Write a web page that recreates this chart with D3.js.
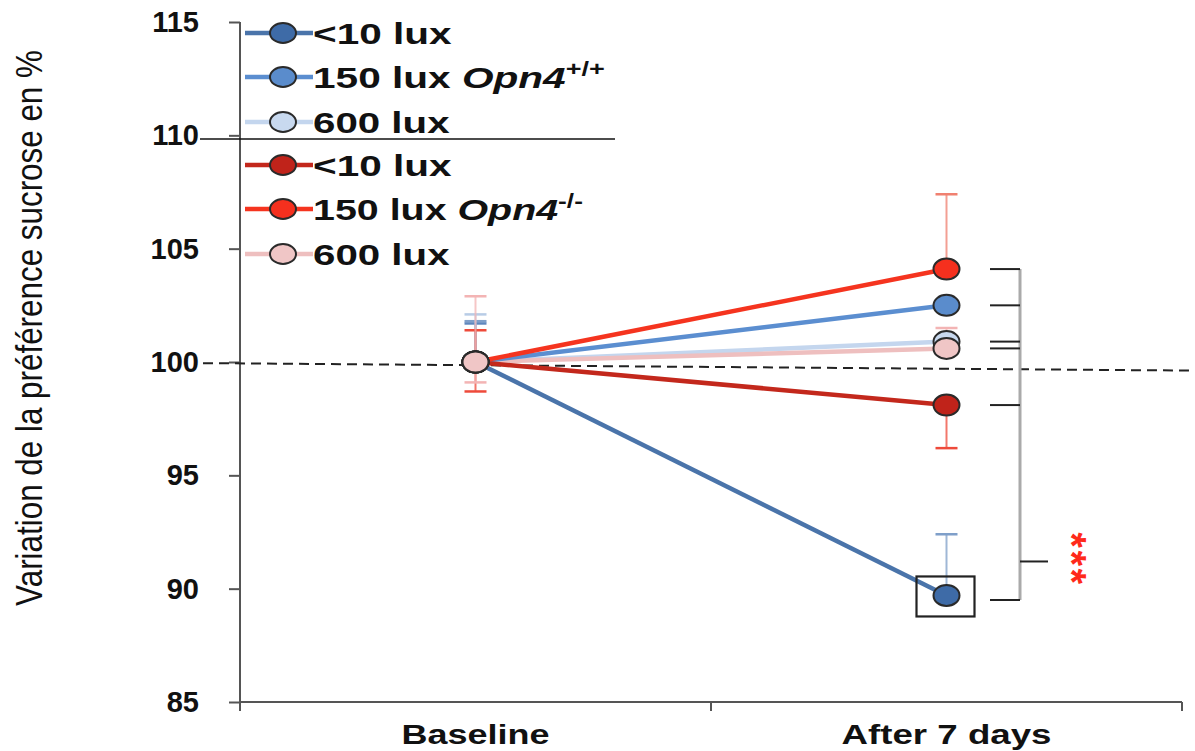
<!DOCTYPE html>
<html><head><meta charset="utf-8">
<script src="https://cdn.jsdelivr.net/npm/d3@7"></script>
<style>
html,body{margin:0;padding:0;background:#fff;}
svg{display:block;}
text{font-family:"Liberation Sans",Arial,sans-serif;}
</style></head>
<body>
<svg id="chart" width="1195" height="751"></svg>
<script>
// ---------- DATA ----------
const categories = ["Baseline", "After 7 days"];
const yTicks = [85, 90, 95, 100, 105, 110, 115];
const seriesKeys = ["wt_lt10", "wt_150", "wt_600", "ko_lt10", "ko_150", "ko_600"];
const legendLabels = ["<10 lux", "150 lux ", "600 lux", "<10 lux", "150 lux ", "600 lux"];
const legendGenotype = ["", "Opn4", "", "", "Opn4", ""];
const legendSup = ["", "+/+", "", "", "-/-", ""];
// mean values (Baseline, After 7 days)
const wt_lt10 = [100, 89.7];
const wt_150 = [100, 102.5];
const wt_600 = [100, 100.9];
const ko_lt10 = [100, 98.1];
const ko_150 = [100, 104.1];
const ko_600 = [100, 100.6];
// error bar ends (null = not shown)
const wt_lt10_hi = [101.8, 92.4], wt_lt10_lo = [null, null];
const wt_150_hi = [101.7, null], wt_150_lo = [null, null];
const wt_600_hi = [102.1, null], wt_600_lo = [null, null];
const ko_lt10_hi = [101.4, null], ko_lt10_lo = [98.7, 96.2];
const ko_150_hi = [null, 107.4], ko_150_lo = [null, null];
const ko_600_hi = [102.9, 101.5], ko_600_lo = [99.1, null];
// reference line (slightly tilted in the original), significance bracket
const refLine = [99.95, 99.62];
const bracketJoin = 91.2;
const sigLabel = "***";
const yTitle = "Variation de la préférence sucrose en %";

// ---------- STYLES ----------
const lineColors = ["#4a74aa", "#5b8ed0", "#c4d6ee", "#c3281c", "#f5341f", "#eebfbf"];
const fillColors = ["#3e6ba7", "#5a8ccc", "#c8d9ef", "#c0231a", "#f5301e", "#f0c6c6"];
const errColors  = ["#7f9fc9", "#5f87bd", "#b8cce6", "#ee4a3a", "#f08070", "#f3b4b4"];

const values = {wt_lt10, wt_150, wt_600, ko_lt10, ko_150, ko_600};
const highs = {wt_lt10: wt_lt10_hi, wt_150: wt_150_hi, wt_600: wt_600_hi, ko_lt10: ko_lt10_hi, ko_150: ko_150_hi, ko_600: ko_600_hi};
const lows = {wt_lt10: wt_lt10_lo, wt_150: wt_150_lo, wt_600: wt_600_lo, ko_lt10: ko_lt10_lo, ko_150: ko_150_lo, ko_600: ko_600_lo};

const svg = d3.select("#chart");
const x = d3.scaleBand().domain(categories).range([240, 1182]).padding(0);
const cx = c => x(c) + x.bandwidth() / 2;
const y = d3.scaleLinear().domain([85, 115]).range([702, 22]);

function fit(sel, target) {
  const w = sel.node().getBBox().width;
  const s = target / w;
  const t = sel.attr("transform") || "";
  sel.attr("transform", t + ` scale(${s},1)`);
}

// ---------- AXES ----------
const yAxis = svg.append("g").attr("transform", "translate(240,0)")
  .call(d3.axisLeft(y).tickValues(yTicks).tickSize(11).tickFormat(""));
yAxis.select(".domain").attr("stroke", "#555").attr("stroke-width", 2).attr("d", `M0,${y(115)}V${y(85)}`);
yAxis.selectAll(".tick line").attr("stroke", "#555").attr("stroke-width", 2);

yTicks.forEach(v => {
  svg.append("text").attr("x", 199).attr("y", y(v) + 10)
    .attr("text-anchor", "end").attr("font-weight", "bold").attr("font-size", 29)
    .attr("fill", "#111").text(v);
});

const xAxis = svg.append("g").attr("transform", `translate(0,${y(85)})`)
  .call(d3.axisBottom(x).tickSize(0).tickFormat(""));
xAxis.select(".domain").attr("stroke", "#555").attr("stroke-width", 2).attr("d", `M240,0H1182`);
const bounds = [x(categories[0]), x(categories[1]), x(categories[1]) + x.bandwidth()];
bounds.forEach(b => svg.append("line").attr("x1", b).attr("x2", b).attr("y1", y(85)).attr("y2", y(85) + 9)
  .attr("stroke", "#555").attr("stroke-width", 2));

const xlw = [148, 210];
categories.forEach((c, i) => {
  const t = svg.append("text").attr("transform", `translate(${cx(c)},744)`)
    .attr("text-anchor", "middle").attr("font-weight", "bold").attr("font-size", 28)
    .attr("fill", "#111").text(c);
  fit(t, xlw[i]);
});

// y title
const yt = svg.append("text").attr("transform", `translate(42,328) rotate(-90)`)
  .attr("text-anchor", "middle").attr("font-size", 37).attr("fill", "#111").text(yTitle);
fit(yt, 556);

// reference dashed line
svg.append("line").attr("x1", 203).attr("x2", 1195).attr("y1", y(refLine[0])).attr("y2", y(refLine[1]))
  .attr("stroke", "#222").attr("stroke-width", 2).attr("stroke-dasharray", "10,6");

// ---------- ERROR BARS ----------
const capW = 11;
seriesKeys.forEach((k, si) => {
  categories.forEach((c, ci) => {
    const m = values[k][ci], hi = highs[k][ci], lo = lows[k][ci];
    [hi, lo].forEach(e => {
      if (e == null) return;
      svg.append("line").attr("x1", cx(c)).attr("x2", cx(c)).attr("y1", y(m)).attr("y2", y(e))
        .attr("stroke", errColors[si]).attr("stroke-width", 2).attr("opacity", 0.75);
      svg.append("line").attr("x1", cx(c) - capW).attr("x2", cx(c) + capW).attr("y1", y(e)).attr("y2", y(e))
        .attr("stroke", errColors[si]).attr("stroke-width", 2.5);
    });
  });
});

// ---------- LINES ----------
const lineGen = d3.line().x((d, i) => cx(categories[i])).y(d => y(d));
const lineOrder = [0, 2, 5, 1, 3, 4];
lineOrder.forEach(si => {
  svg.append("path").attr("d", lineGen(values[seriesKeys[si]]))
    .attr("fill", "none").attr("stroke", lineColors[si]).attr("stroke-width", 4.5);
});

// ---------- POINTS ----------
seriesKeys.forEach((k, si) => {
  values[k].forEach((v, ci) => {
    svg.append("ellipse").attr("cx", cx(categories[ci])).attr("cy", y(v)).attr("rx", 13).attr("ry", 10.5)
      .attr("fill", fillColors[si]).attr("stroke", "#2a2a2a").attr("stroke-width", 2);
  });
});

// highlight box around <10 lux Opn4+/+ after 7 days
svg.append("rect").attr("x", cx(categories[1]) - 30).attr("y", y(wt_lt10[1]) - 19)
  .attr("width", 58).attr("height", 40).attr("fill", "none").attr("stroke", "#222").attr("stroke-width", 2.2);

// ---------- SIGNIFICANCE BRACKET ----------
const afterVals = seriesKeys.map(k => values[k][1]);
const bTop = d3.max(afterVals), bBot = d3.min(afterVals) - 0.2;
svg.append("line").attr("x1", 1020).attr("x2", 1020).attr("y1", y(bTop)).attr("y2", y(bBot))
  .attr("stroke", "#aaa").attr("stroke-width", 3);
afterVals.forEach(v => {
  const vv = v === d3.min(afterVals) ? bBot : v;
  svg.append("line").attr("x1", 990).attr("x2", 1020).attr("y1", y(vv)).attr("y2", y(vv))
    .attr("stroke", "#222").attr("stroke-width", 2);
});
svg.append("line").attr("x1", 1020).attr("x2", 1048).attr("y1", y(bracketJoin)).attr("y2", y(bracketJoin))
  .attr("stroke", "#222").attr("stroke-width", 2);
svg.append("text").attr("transform", `translate(1058,${y(bracketJoin) - 2}) rotate(90)`)
  .attr("text-anchor", "middle").attr("font-size", 40).attr("font-weight", "bold")
  .attr("letter-spacing", 2.5).attr("fill", "#ff2a1a").text(sigLabel);

// ---------- LEGEND ----------
svg.append("line").attr("x1", 200).attr("x2", 615).attr("y1", 139).attr("y2", 139)
  .attr("stroke", "#111").attr("stroke-width", 1.5);
const legY = [33, 77, 122, 165, 209, 254];
const legW = [139, 292, 137, 139, 270, 137];
seriesKeys.forEach((k, si) => {
  const ly = legY[si];
  svg.append("line").attr("x1", 245).attr("x2", 313).attr("y1", ly).attr("y2", ly)
    .attr("stroke", lineColors[si]).attr("stroke-width", 4.5);
  svg.append("ellipse").attr("cx", 283).attr("cy", ly).attr("rx", 13).attr("ry", 10)
    .attr("fill", fillColors[si]).attr("stroke", "#2a2a2a").attr("stroke-width", 2);
  const t = svg.append("text").attr("transform", `translate(313,${ly + 11})`)
    .attr("font-weight", "bold").attr("font-size", 30).attr("fill", "#111");
  t.append("tspan").text(legendLabels[si]);
  if (legendGenotype[si]) {
    t.append("tspan").attr("font-style", "italic").text(legendGenotype[si]);
    t.append("tspan").attr("font-size", 20).attr("dy", -12).text(legendSup[si]);
  }
  fit(t, legW[si]);
});
</script>
</body></html>
